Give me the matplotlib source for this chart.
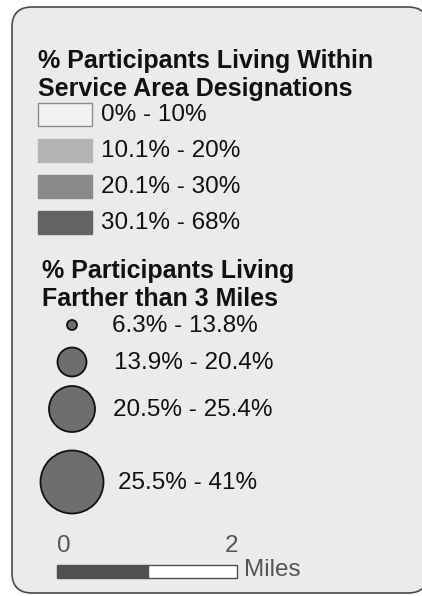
import matplotlib.pyplot as plt
from matplotlib.patches import FancyBboxPatch, Rectangle, Circle

# --------------------------------------------------
# Legend data
# --------------------------------------------------

area_title = ["% Participants Living Within", "Service Area Designations"]
area_labels = ["0% - 10%", "10.1% - 20%", "20.1% - 30%", "30.1% - 68%"]
area_colors = ["#f2f2f2", "#b4b4b4", "#8a8a8a", "#646464"]

dist_title = ["% Participants Living", "Farther than 3 Miles"]
dist_labels = ["6.3% - 13.8%", "13.9% - 20.4%", "20.5% - 25.4%", "25.5% - 41%"]
dist_radius = [5, 14.5, 23, 31.5]

scale_ticks = ["0", "2"]
scale_unit = "Miles"

# --------------------------------------------------
# Layout (pixels, origin top-left)
# --------------------------------------------------

W, H = 422, 596
FONT = "Liberation Sans"

fig = plt.figure(figsize=(W / 100, H / 100), dpi=100)
ax = fig.add_axes([0, 0, 1, 1])
ax.set_xlim(0, W)
ax.set_ylim(H, 0)
ax.set_aspect("equal")
ax.axis("off")

panel = FancyBboxPatch(
    (12, 7), 416, 586,
    boxstyle="round,pad=0,rounding_size=20",
    facecolor="#ebebeb",
    edgecolor="#4a4a4a",
    linewidth=1.2,
)
ax.add_patch(panel)

# first block: shaded boxes
for i, line in enumerate(area_title):
    ax.text(38, 61 + 28 * i, line, fontsize=18, fontweight="bold",
            family=FONT, va="center", ha="left", color="#111111")

box_y = [103, 139, 175, 211]
for y, lab, col in zip(box_y, area_labels, area_colors):
    edge = "#8c8c8c" if col == "#f2f2f2" else col
    ax.add_patch(Rectangle((38, y), 54, 23, facecolor=col,
                           edgecolor=edge, linewidth=1))
    ax.text(101, y + 12, lab, fontsize=17.5, family=FONT,
            va="center", ha="left", color="#111111")

# second block: graduated circles
for i, line in enumerate(dist_title):
    ax.text(42, 271 + 28 * i, line, fontsize=18, fontweight="bold",
            family=FONT, va="center", ha="left", color="#111111")

circ_y = [325, 362, 409, 482]
label_x = [112, 114, 113, 118]
for y, r, lab, lx in zip(circ_y, dist_radius, dist_labels, label_x):
    ax.add_patch(Circle((72, y), r, facecolor="#6e6e6e",
                        edgecolor="#111111", linewidth=1.3))
    ax.text(lx, y + 1, lab, fontsize=17.5, family=FONT,
            va="center", ha="left", color="#111111")

# scale bar
ax.text(57, 546, scale_ticks[0], fontsize=17.5, family=FONT,
        va="center", ha="left", color="#555555")
ax.text(238, 546, scale_ticks[1], fontsize=17.5, family=FONT,
        va="center", ha="right", color="#555555")
ax.add_patch(Rectangle((57, 565), 91, 13, facecolor="#505050",
                       edgecolor="#505050", linewidth=1))
ax.add_patch(Rectangle((148, 565), 89, 13, facecolor="white",
                       edgecolor="#505050", linewidth=1))
ax.text(244, 570, scale_unit, fontsize=17.5, family=FONT,
        va="center", ha="left", color="#555555")

fig.savefig("out.png", dpi=100, facecolor="white")
